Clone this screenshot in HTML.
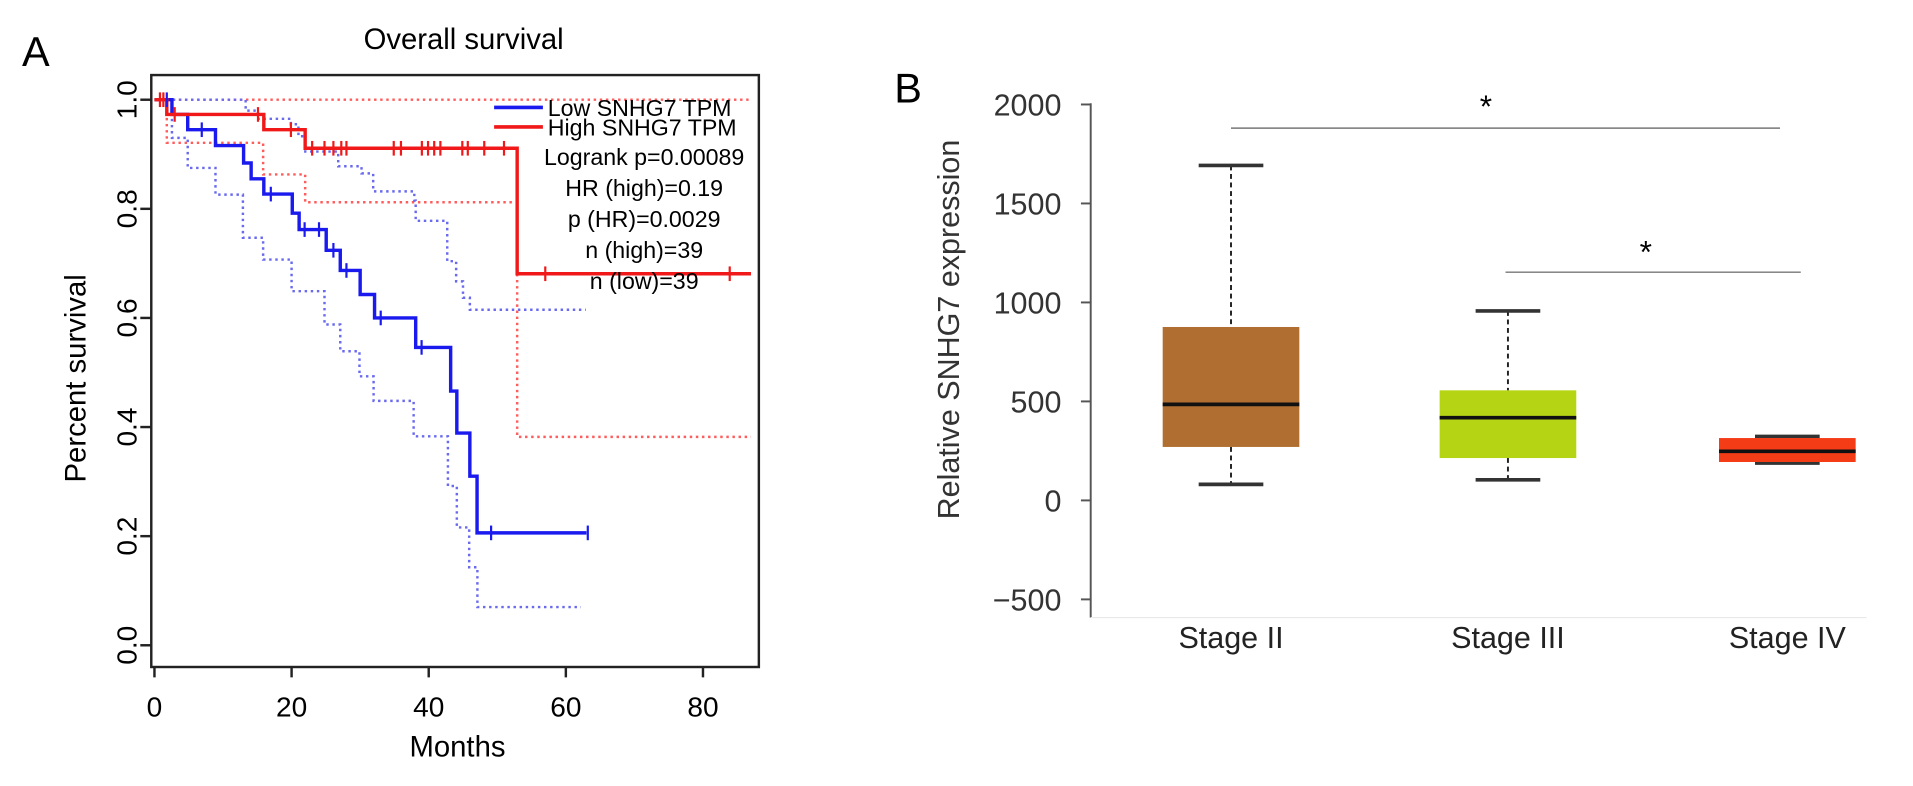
<!DOCTYPE html>
<html><head><meta charset="utf-8"><style>
html,body{margin:0;padding:0;background:#fff;}
svg{display:block;font-family:"Liberation Sans",sans-serif;}
</style></head><body>
<svg id="fig" width="1913" height="786" viewBox="0 0 1568 644" preserveAspectRatio="none" xmlns="http://www.w3.org/2000/svg">
<g id="pa"></g>
<g id="pb"></g>
</svg>
<script>
// ---- Panel A data ----
const xTicksA = [0, 20, 40, 60, 80];
const yTicksA = [0.0, 0.2, 0.4, 0.6, 0.8, 1.0];
const lowTimes = [0,2.55,4.85,8.9,13.0,14.1,15.95,20.1,21.1,25.05,27.1,30.0,32.1,38.1,43.2,44.1,46.0,47.05];
const lowSurv = [1,0.973,0.945,0.916,0.884,0.855,0.827,0.792,0.762,0.724,0.687,0.643,0.600,0.546,0.466,0.389,0.310,0.206];
const lowEnd = 63;
const lowCensor = [1.8,6.9,16.97,21.9,24.0,26.1,28.0,33.0,38.96,49.1,63.2];
const highTimes = [0,1.8,15.95,21.98,52.9];
const highSurv = [1,0.973,0.945,0.911,0.681];
const highEnd = 87;
const highCensor = [0.8,1.3,2.95,15.1,19.9,23.0,24.8,26.1,27.25,28.0,34.9,35.95,39.0,39.9,40.8,41.7,44.9,45.7,48.1,50.98,57.0,83.9];
const highUpT = [0]; const highUpS = [1];
const highLoT = [0,1.8,15.85,21.98,52.9];
const highLoS = [1,0.921,0.863,0.812,0.382];
const lowUpT = [0,13.3,15.0,19.9,21.0,22.0,26.8,30.2,31.9,37.9,38.1,42.7,44.0,45.0,46.0];
const lowUpS = [1,0.98,0.965,0.955,0.933,0.905,0.878,0.865,0.832,0.815,0.778,0.704,0.667,0.637,0.615];
const lowCIEnd = 62.9;
const lowLoT = [0,2.55,4.85,8.9,12.9,15.85,20.0,24.8,27.1,29.9,31.96,37.8,42.8,44.1,45.9,47.1];
const lowLoS = [1,0.93,0.875,0.826,0.747,0.707,0.649,0.588,0.539,0.493,0.448,0.383,0.292,0.216,0.143,0.070];
const lowLoEnd = 62.2;
const statsLines = ["Logrank p=0.00089","HR (high)=0.19","p (HR)=0.0029","n (high)=39","n (low)=39"];

// ---- Panel B data ----
const stages = ["Stage II","Stage III","Stage IV"];
const whiskHi = [1692, 957, 323];
const q3 = [876, 556, 315];
const medians = [485, 418, 248];
const q1 = [270, 214, 194];
const whiskLo = [81, 104, 189];
const boxColors = ["#b06f30","#b5d514","#f43c17"];
const yTicksB = [-500, 0, 500, 1000, 1500, 2000];

const NS = "http://www.w3.org/2000/svg";
function mk(parent, tag, attrs, txt){
  const e = document.createElementNS(NS, tag);
  for (const k in attrs) e.setAttribute(k, attrs[k]);
  if (txt !== undefined) e.textContent = txt;
  parent.appendChild(e); return e;
}
// ===== Panel A =====
const pa = document.getElementById('pa');
const xA = m => 126.6 + m * 5.62;
const yA = s => 528.7 - s * 447;
let t;
t = mk(pa,'text',{x:18,y:54,'font-size':34},'A');
 
t = mk(pa,'text',{x:380,y:40,'font-size':24,'text-anchor':'middle'},'Overall survival');
 
const frame = mk(pa,'rect',{x:124,y:61.5,width:498,height:485,fill:'none',stroke:'#222','stroke-width':2});
 
xTicksA.forEach(v=>{
  const l = mk(pa,'line',{x1:xA(v),x2:xA(v),y1:546.5,y2:555,stroke:'#222','stroke-width':2});
   
  const tx = mk(pa,'text',{x:xA(v),y:587,'font-size':23,'text-anchor':'middle'},String(v));
   
});
yTicksA.forEach(v=>{
  const l = mk(pa,'line',{x1:115,x2:124,y1:yA(v),y2:yA(v),stroke:'#222','stroke-width':2});
   
  const tx = mk(pa,'text',{x:0,y:0,'font-size':23,'text-anchor':'middle',transform:`translate(112,${yA(v)}) rotate(-90)`},v.toFixed(1));
   
});
t = mk(pa,'text',{x:0,y:0,'font-size':24,'text-anchor':'middle',transform:'translate(70,310) rotate(-90)'},'Percent survival');
 
t = mk(pa,'text',{x:375,y:620,'font-size':24,'text-anchor':'middle'},'Months');
 

function stepPath(T,S,end){
  let d = `M${xA(T[0])},${yA(S[0])}`;
  for (let i=1;i<T.length;i++){ d += ` H${xA(T[i])} V${yA(S[i])}`; }
  d += ` H${xA(end)}`; return d;
}
function stepVal(T,S,m){ let v=S[0]; for(let i=0;i<T.length;i++){ if(T[i]<=m) v=S[i]; } return v; }
function curve(T,S,end,color,w,dash,name){
  const p = mk(pa,'path',{d:stepPath(T,S,end),fill:'none',stroke:color,'stroke-width':w});
  if (dash) p.setAttribute('stroke-dasharray',dash);
   
}
curve(highUpT,highUpS,highEnd,'#ff5c5c',2,'2 3','high-ci-upper');
curve(highLoT,highLoS,highEnd,'#ff5c5c',2,'2 3','high-ci-lower');
curve(lowUpT,lowUpS,lowCIEnd,'#6a6aee',2,'2 3','low-ci-upper');
curve(lowLoT,lowLoS,lowLoEnd,'#6a6aee',2,'2 3','low-ci-lower');
curve(lowTimes,lowSurv,lowEnd,'#1a1aee',2.8,null,'low-survival-curve');
curve(highTimes,highSurv,highEnd,'#f01818',2.8,null,'high-survival-curve');
lowCensor.forEach(m=>{
  const y = yA(stepVal(lowTimes,lowSurv,m));
  const l = mk(pa,'line',{x1:xA(m),x2:xA(m),y1:y-6,y2:y+6,stroke:'#1a1aee','stroke-width':1.8});
   
});
highCensor.forEach(m=>{
  const y = yA(stepVal(highTimes,highSurv,m));
  const l = mk(pa,'line',{x1:xA(m),x2:xA(m),y1:y-6,y2:y+6,stroke:'#f01818','stroke-width':1.8});
   
});
// legend
const lg = mk(pa,'g',{});
 
let le = mk(lg,'line',{x1:405,x2:445,y1:88,y2:88,stroke:'#1a1aee','stroke-width':3});
 
le = mk(lg,'text',{x:449,y:95,'font-size':19},'Low SNHG7 TPM');
 
le = mk(lg,'line',{x1:405,x2:445,y1:104,y2:104,stroke:'#f01818','stroke-width':3});
 
le = mk(lg,'text',{x:449,y:111,'font-size':19},'High SNHG7 TPM');
 
statsLines.forEach((s,i)=>{
  const tx = mk(lg,'text',{x:528,y:135+i*25.5,'font-size':19,'text-anchor':'middle'},s);
   
});

// ===== Panel B =====
const pb = document.getElementById('pb');
const yB = v => 410 - v * 81.1/500;
const xCenters = [1009, 1236, 1465];
const boxW = 112, capW = 53;
t = mk(pb,'text',{x:733,y:84,'font-size':34},'B');
 
const ax = mk(pb,'line',{x1:894,x2:894,y1:yB(2000)-1,y2:506,stroke:'#555','stroke-width':1.6});
 
const xax = mk(pb,'line',{x1:894,x2:1530,y1:506,y2:506,stroke:'#e8e8e8','stroke-width':1});
 
yTicksB.forEach(v=>{
  const l = mk(pb,'line',{x1:886,x2:894,y1:yB(v),y2:yB(v),stroke:'#555','stroke-width':1.6});
   
  const tx = mk(pb,'text',{x:870,y:yB(v)+9,'font-size':25,'text-anchor':'end',fill:'#333'},(v<0?'\u2212'+(-v):String(v)));
   
});
t = mk(pb,'text',{x:0,y:0,'font-size':25,'text-anchor':'middle',fill:'#333',transform:'translate(786,270) rotate(-90)'},'Relative SNHG7 expression');
 
stages.forEach((s,i)=>{
  const cx = xCenters[i];
  const g = mk(pb,'g',{});
   
  mk(g,'line',{x1:cx,x2:cx,y1:yB(whiskHi[i]),y2:yB(q3[i]),stroke:'#222','stroke-width':1.6,'stroke-dasharray':'4 3'});
  mk(g,'line',{x1:cx,x2:cx,y1:yB(q1[i]),y2:yB(whiskLo[i]),stroke:'#222','stroke-width':1.6,'stroke-dasharray':'4 3'});
  mk(g,'line',{x1:cx-capW/2,x2:cx+capW/2,y1:yB(whiskHi[i]),y2:yB(whiskHi[i]),stroke:'#333','stroke-width':3});
  mk(g,'line',{x1:cx-capW/2,x2:cx+capW/2,y1:yB(whiskLo[i]),y2:yB(whiskLo[i]),stroke:'#333','stroke-width':3});
  mk(g,'rect',{x:cx-boxW/2,y:yB(q3[i]),width:boxW,height:yB(q1[i])-yB(q3[i]),fill:boxColors[i]});
  mk(g,'line',{x1:cx-boxW/2,x2:cx+boxW/2,y1:yB(medians[i]),y2:yB(medians[i]),stroke:'#111','stroke-width':3});
  const tx = mk(pb,'text',{x:cx,y:531,'font-size':25,'text-anchor':'middle',fill:'#222'},s);
   
});
let sg = mk(pb,'line',{x1:1009,x2:1459,y1:105,y2:105,stroke:'#777','stroke-width':1.2});
 
sg = mk(pb,'text',{x:1218,y:96,'font-size':26,'text-anchor':'middle'},'*');
 
sg = mk(pb,'line',{x1:1234,x2:1476,y1:223,y2:223,stroke:'#777','stroke-width':1.2});
 
sg = mk(pb,'text',{x:1349,y:215,'font-size':26,'text-anchor':'middle'},'*');
 
</script>
</body></html>
